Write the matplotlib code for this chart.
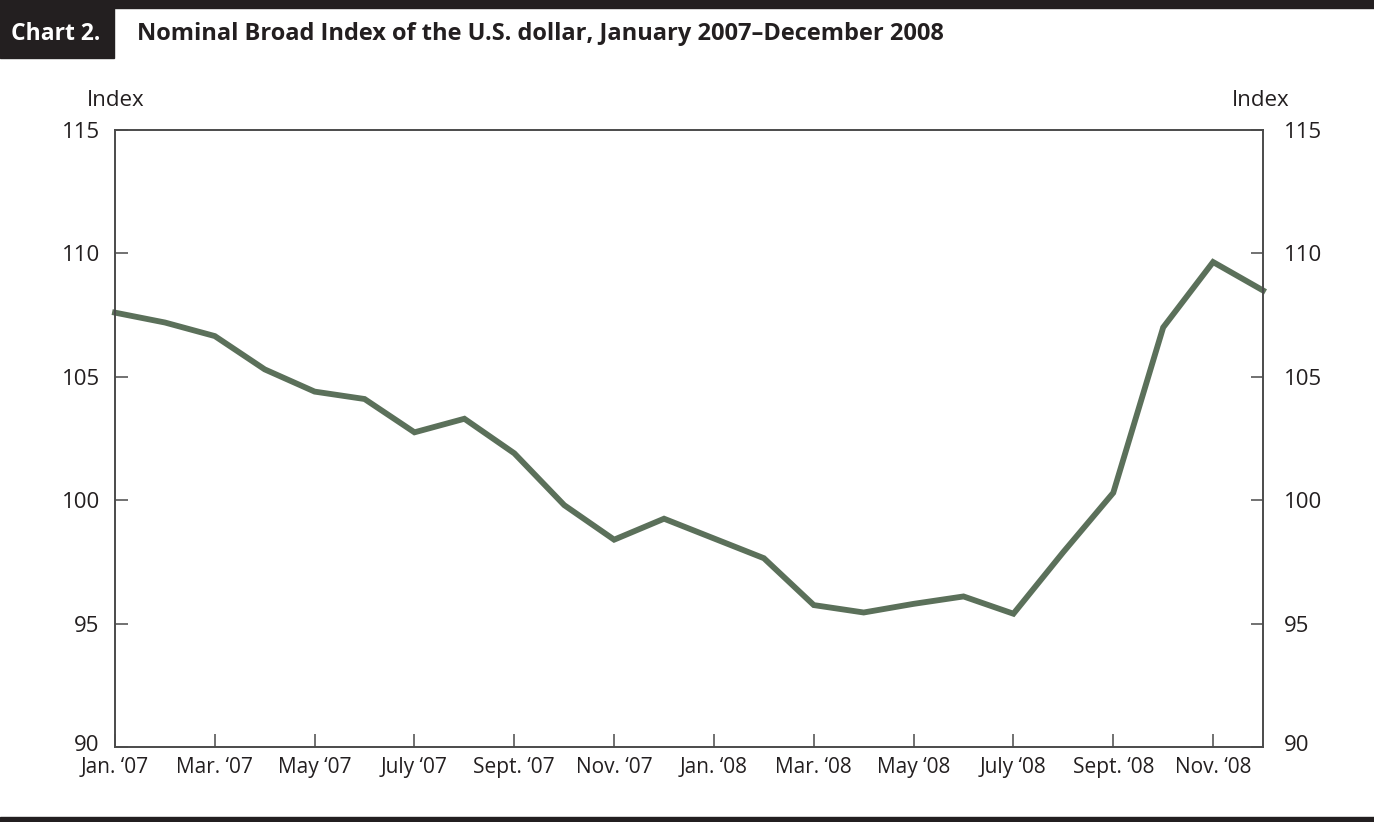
import matplotlib
matplotlib.use("Agg")
import matplotlib.pyplot as plt
import matplotlib.transforms as mtransforms

plt.rcParams['font.family'] = ['Open Sans', 'DejaVu Sans']

# monthly values, Jan 2007 - Dec 2008
months = ["Jan.07", "Feb.07", "Mar.07", "Apr.07", "May.07", "Jun.07", "Jul.07", "Aug.07",
          "Sep.07", "Oct.07", "Nov.07", "Dec.07", "Jan.08", "Feb.08", "Mar.08", "Apr.08",
          "May.08", "Jun.08", "Jul.08", "Aug.08", "Sep.08", "Oct.08", "Nov.08", "Dec.08"]
index_values = [107.6, 107.2, 106.65, 105.3, 104.4, 104.1, 102.75, 103.3,
                101.9, 99.8, 98.4, 99.25, 98.45, 97.65, 95.75, 95.45,
                95.8, 96.1, 95.4, 97.9, 100.3, 107.0, 109.65, 108.5]
tick_labels = ["Jan. \u201807", "Mar. \u201807", "May \u201807", "July \u201807", "Sept. \u201807",
               "Nov. \u201807", "Jan. \u201808", "Mar. \u201808", "May \u201808", "July \u201808",
               "Sept. \u201808", "Nov. \u201808"]
y_ticks = [90, 95, 100, 105, 110, 115]

dark = "#231f20"
axis_col = "#4a4a4a"
fig = plt.figure(figsize=(13.74, 8.22), dpi=100)
ax = fig.add_axes([115/1374, 1 - 747/822, 1148/1374, 617/822])

x = list(range(len(months)))
ax.plot(x, index_values, color="#5b705a", lw=4.2, solid_joinstyle="miter", clip_on=False)
ax.set_xlim(0, 23)
ax.set_ylim(90, 115)
ax.set_xticks(x[::2])
ax.set_xticklabels(tick_labels, fontsize=15, color=dark)
ax.set_yticks(y_ticks)
ax.set_yticklabels([str(v) for v in y_ticks], fontsize=16, color=dark)
ax.tick_params(axis="y", direction="in", length=9, width=1.1, color=axis_col, pad=11)
ax.tick_params(axis="x", direction="in", length=9.5, width=1.1, color=axis_col, pad=7)

ax2 = ax.twinx()
ax2.set_ylim(90, 115)
ax2.set_yticks(y_ticks)
ax2.set_yticklabels([str(v) for v in y_ticks], fontsize=16, color=dark)
ax2.tick_params(axis="y", direction="in", length=9, width=1.1, color=axis_col, pad=15)

for a in (ax, ax2):
    for s in a.spines.values():
        s.set_color(axis_col)
        s.set_linewidth(1.2)

# lift the bottom "90" labels a little, like the original
lift = mtransforms.ScaledTranslation(0, 4/100, fig.dpi_scale_trans)
ax.get_yticklabels()[0].set_transform(ax.get_yticklabels()[0].get_transform() + lift)
ax2.get_yticklabels()[0].set_transform(ax2.get_yticklabels()[0].get_transform() + lift)

fig.text(87/1374, 1 - 100/822, "Index", fontsize=16, va="center", ha="left", color=dark)
fig.text(1290/1374, 1 - 100/822, "Index", fontsize=16, va="center", ha="right", color=dark)

# header and footer bars
fig.patches.append(plt.Rectangle((0, 1 - 8/822), 1, 8/822, transform=fig.transFigure,
                                 color=dark, zorder=0))
fig.patches.append(plt.Rectangle((0, 1 - 58/822), 114/1374, 58/822, transform=fig.transFigure,
                                 color=dark, zorder=0))
fig.patches.append(plt.Rectangle((0, 0), 1, 5/822, transform=fig.transFigure,
                                 color=dark, zorder=0))
fig.text(56/1374, 1 - 34/822, "Chart 2.", color="white", fontsize=16.5, fontweight="bold",
         ha="center", va="center")
fig.text(137/1374, 1 - 34/822,
         "Nominal Broad Index of the U.S. dollar, January 2007\u2013December 2008",
         fontsize=17, fontweight="bold", ha="left", va="center", color=dark)

fig.savefig("out.png", dpi=100)
